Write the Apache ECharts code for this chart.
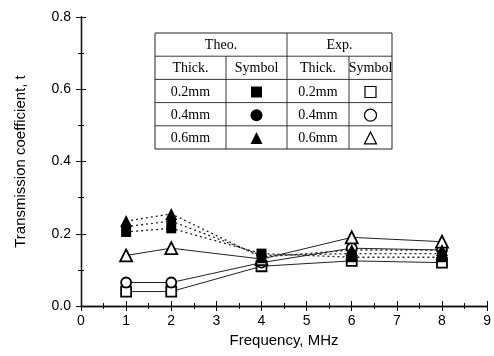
<!DOCTYPE html>
<html>
<head>
<meta charset="utf-8">
<script src="https://cdn.jsdelivr.net/npm/echarts@6/dist/echarts.min.js"></script>
<style>
  html, body { margin: 0; padding: 0; background: #fff; }
  #chart { width: 494px; height: 356px; }
</style>
</head>
<body>
<div id="chart"></div>
<script>
// Frequencies (MHz) at which the coefficient was evaluated
const freq = [1, 2, 4, 6, 8];

// Theoretical transmission coefficient per plate thickness
const theo02 = [0.205, 0.215, 0.145, 0.135, 0.135];
const theo04 = [0.220, 0.235, 0.140, 0.145, 0.145];
const theo06 = [0.235, 0.255, 0.135, 0.155, 0.155];

// Measured transmission coefficient per plate thickness
const exp02 = [0.040, 0.040, 0.110, 0.125, 0.120];
const exp04 = [0.065, 0.065, 0.120, 0.160, 0.155];
const exp06 = [0.140, 0.160, 0.130, 0.190, 0.178];

const xTicks = [0, 1, 2, 3, 4, 5, 6, 7, 8, 9];

const pts = v => freq.map((f, i) => [f, v[i]]);

const theoLine = { type: [2, 3], width: 1.3, color: '#222' };
const expLine = { type: 'solid', width: 1, color: '#222' };
const filled = { color: '#000' };
const hollow = { color: '#fff', borderColor: '#000', borderWidth: 1.8 };

function s(name, vals, symbol, size, line, item) {
  return {
    name, type: 'line', data: pts(vals), symbol, symbolSize: size,
    lineStyle: line, itemStyle: item, showSymbol: true, z: 3,
    emphasis: { disabled: true }
  };
}

const axisFont = { fontFamily: 'Liberation Sans, Arial, sans-serif', fontSize: 14, color: '#000' };
const nameFont = { fontFamily: 'Liberation Sans, Arial, sans-serif', fontSize: 15, color: '#000' };
const serif = 'Liberation Serif, Times New Roman, serif';

// legend table geometry
const T = { x: 155, y: 33, w: 237, rh: 23.2, c1: 71, c2: 132, c3: 194 };
const rowY = r => T.y + T.rh * r;
const tLines = [];
const hl = (x1, x2, y) => tLines.push({ type: 'line', shape: { x1, y1: y, x2, y2: y }, style: { stroke: '#222', lineWidth: 0.9 }, silent: true });
const vl = (x, y1, y2) => tLines.push({ type: 'line', shape: { x1: x, y1, x2: x, y2 }, style: { stroke: '#222', lineWidth: 0.9 }, silent: true });
for (let r = 1; r < 5; r++) hl(T.x, T.x + T.w, rowY(r));
vl(T.x + T.c2, T.y, rowY(5));
vl(T.x + T.c1, rowY(1), rowY(5));
vl(T.x + T.c3, rowY(1), rowY(5));

const txt = (t, cx, r) => ({
  type: 'text', silent: true,
  style: { text: t, x: cx, y: rowY(r) + T.rh / 2 + 1, align: 'center', verticalAlign: 'middle',
           font: '14px ' + serif, fill: '#000' }
});
const colC = [T.x + T.c1 / 2, T.x + (T.c1 + T.c2) / 2, T.x + (T.c2 + T.c3) / 2, T.x + (T.c3 + T.w) / 2];
const tText = [
  txt('Theo.', T.x + T.c2 / 2, 0), txt('Exp.', T.x + (T.c2 + T.w) / 2, 0),
  txt('Thick.', colC[0], 1), txt('Symbol', colC[1], 1), txt('Thick.', colC[2], 1), txt('Symbol', colC[3], 1),
  txt('0.2mm', colC[0], 2), txt('0.4mm', colC[0], 3), txt('0.6mm', colC[0], 4),
  txt('0.2mm', colC[2], 2), txt('0.4mm', colC[2], 3), txt('0.6mm', colC[2], 4)
];
const cy = r => rowY(r) + T.rh / 2 + 1;
const tri = (cx, y, h) => [[cx, y - h / 2 - 1], [cx + h / 2 + 0.5, y + h / 2], [cx - h / 2 - 0.5, y + h / 2]];
const tSym = [
  { type: 'rect', shape: { x: colC[1] - 5.5, y: cy(2) - 5.5, width: 11, height: 11 }, style: { fill: '#000' }, silent: true },
  { type: 'circle', shape: { cx: colC[1], cy: cy(3), r: 6 }, style: { fill: '#000' }, silent: true },
  { type: 'polygon', shape: { points: tri(colC[1], cy(4), 11) }, style: { fill: '#000' }, silent: true },
  { type: 'rect', shape: { x: colC[3] - 5.5, y: cy(2) - 5.5, width: 11, height: 11 }, style: { fill: '#fff', stroke: '#000', lineWidth: 1.2 }, silent: true },
  { type: 'circle', shape: { cx: colC[3], cy: cy(3), r: 6 }, style: { fill: '#fff', stroke: '#000', lineWidth: 1.2 }, silent: true },
  { type: 'polygon', shape: { points: tri(colC[3], cy(4), 11) }, style: { fill: '#fff', stroke: '#000', lineWidth: 1.2 }, silent: true }
];

const tickCommon = {
  axisTick: { show: true, inside: true, length: 5, lineStyle: { color: '#111' } },
  minorTick: { show: true, splitNumber: 2, length: 3, lineStyle: { color: '#111' } },
  splitLine: { show: false }
};

const chart = echarts.init(document.getElementById('chart'));
chart.setOption({
  animation: false,
  backgroundColor: '#fff',
  grid: { left: 81, right: 6, top: 17, bottom: 50 },
  xAxis: [{
    type: 'value', min: xTicks[0], max: xTicks[xTicks.length - 1], interval: 1,
    name: 'Frequency, MHz', nameLocation: 'middle', nameGap: 22,
    nameTextStyle: nameFont,
    axisLine: { lineStyle: { color: '#111', width: 1.3 } },
    axisLabel: { ...axisFont, margin: 8 },
    ...tickCommon
  }, {
    type: 'value', position: 'top', min: 0, max: 9, interval: 1,
    axisLine: { lineStyle: { color: '#111', width: 1.3 } },
    axisLabel: { show: false },
    ...tickCommon
  }],
  yAxis: [{
    type: 'value', min: 0, max: 0.8, interval: 0.2,
    name: 'Transmission coefficient, t', nameLocation: 'middle', nameGap: 53,
    nameTextStyle: nameFont,
    axisLine: { show: true, lineStyle: { color: '#111', width: 1.3 } },
    axisLabel: { ...axisFont, margin: 10, formatter: v => v.toFixed(1) },
    ...tickCommon
  }, {
    type: 'value', position: 'right', min: 0, max: 0.8, interval: 0.2,
    axisLine: { show: true, lineStyle: { color: '#111', width: 1.3 } },
    axisLabel: { show: false },
    ...tickCommon
  }],
  series: [
    s('Exp. 0.2mm', exp02, 'rect', 10, expLine, hollow),
    s('Exp. 0.4mm', exp04, 'circle', 10, expLine, hollow),
    s('Exp. 0.6mm', exp06, 'triangle', 12, expLine, hollow),
    s('Theo. 0.2mm', theo02, 'rect', 10, theoLine, filled),
    s('Theo. 0.4mm', theo04, 'circle', 10, theoLine, filled),
    s('Theo. 0.6mm', theo06, 'triangle', 12, theoLine, filled)
  ],
  graphic: [
    { type: 'rect', shape: { x: T.x, y: T.y, width: T.w, height: T.rh * 5 }, style: { fill: '#fff', stroke: '#222', lineWidth: 1 }, silent: true, z: 10 },
    ...tLines.map(g => ({ ...g, z: 11 })),
    ...tText.map(g => ({ ...g, z: 11 })),
    ...tSym.map(g => ({ ...g, z: 11 }))
  ]
});
</script>
</body>
</html>
